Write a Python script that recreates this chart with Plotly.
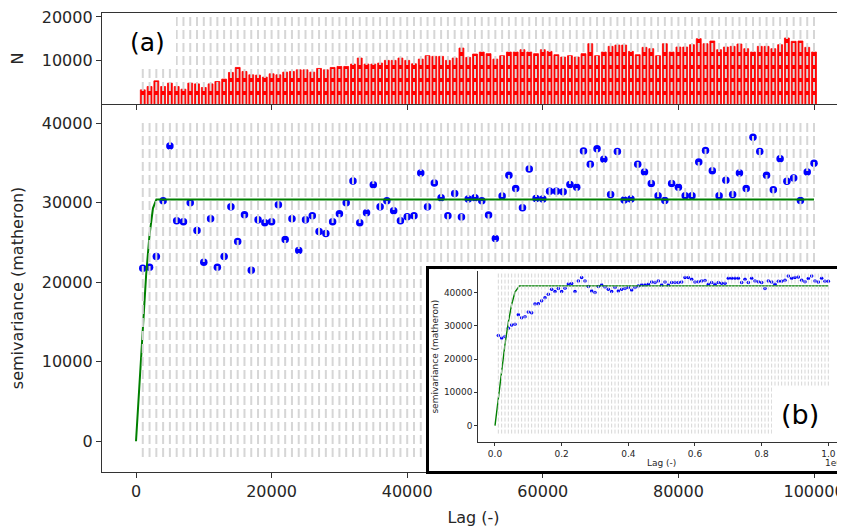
import plotly.graph_objs as go

# Lag bins (main plot, every 1000 up to 100000)
lags = [1000 * (i + 1) for i in range(100)]

# Pair counts per lag bin (panel a)
n_pairs = [3230, 4000, 5300, 4000, 4770, 4000, 3380, 4770, 4600, 3770,
           4600, 5150, 5700, 7230, 8380, 7460, 6690, 6610, 6150, 6920,
           6690, 7300, 7460, 7840, 7840, 7300, 8150, 7840, 8380, 8610,
           8610, 9150, 10540, 9150, 9150, 9380, 10000, 10000, 10540, 10000,
           9230, 10300, 11070, 10920, 10920, 10000, 10540, 12840, 10690, 11460,
           11920, 11540, 10300, 11070, 11920, 11920, 12460, 11920, 11540, 12460,
           12070, 11300, 10770, 11070, 10770, 11540, 13840, 11070, 11920, 13230,
           13530, 13530, 12070, 11300, 13000, 12690, 11070, 13840, 11920, 13070,
           13070, 13610, 15000, 13840, 14460, 12460, 13070, 13230, 13770, 12690,
           11920, 13230, 13230, 12690, 13610, 15150, 14380, 14460, 13000, 11920]

# Experimental semivariance (matheron)
semivariance = [21750, 21875, 23250, 30250, 37125, 27750, 27625, 30000, 26500, 22500,
                28000, 21875, 23250, 29500, 25125, 28500, 21500, 27875, 27500, 27625,
                29750, 25375, 28000, 24000, 27875, 28375, 26375, 26125, 27625, 28625,
                30000, 32750, 27500, 28750, 32250, 29500, 30250, 29000, 27750, 28250,
                28375, 33750, 29500, 32500, 30625, 28375, 31160, 28200, 30460, 30625,
                30250, 28460, 25500, 30840, 33460, 31790, 29375, 34250, 30540, 30460,
                31460, 31460, 31375, 32290, 31960, 36500, 34840, 36790, 35460, 31040,
                36460, 30340, 30460, 34840, 33875, 32410, 30875, 30290, 32410, 31960,
                30875, 30875, 35125, 36590, 34040, 30875, 32840, 31040, 33750, 31790,
                38250, 36460, 33460, 31625, 35540, 32710, 33125, 30290, 33875, 34960]

# Fitted model
model_lag = [0, 500, 1000, 1500, 2000, 2500, 3000, 100000]
model_val = [0, 7500, 15000, 21000, 26000, 29300, 30400, 30400]

# Inset (b): lags in units of 1e6
inset_lags = [0.01 * (i + 1) for i in range(100)]
inset_semivar = [27050, 26360, 26750, 29250, 30240, 30450, 33320, 32420, 32720, 34120,
                 33910, 36510, 36600, 37490, 38390, 39490, 40990, 40300, 41190, 40300,
                 41280, 42570, 42690, 40300, 43460, 44480, 43460, 41790, 40480, 40000,
                 41790, 42270, 41670, 40990, 40300, 41490, 40480, 40990, 41190, 41490,
                 40780, 41490, 41970, 42270, 42270, 42480, 43160, 43000, 43460, 42270,
                 43160, 42270, 42990, 42990, 42990, 43160, 44480, 44480, 43970, 43160,
                 43260, 43460, 43580, 42480, 42990, 42480, 42990, 42800, 42800, 44270,
                 44270, 44270, 44270, 42990, 43970, 42990, 44270, 43460, 43260, 42990,
                 41190, 43460, 43160, 42480, 43360, 43360, 43660, 44960, 44270, 44480,
                 44670, 43660, 43260, 44170, 44960, 43460, 43160, 44270, 43360, 43360]
inset_model_lag = [0, 0.01, 0.02, 0.03, 0.04, 0.05, 0.06, 0.07, 0.073, 1.0]
inset_model_val = [0, 8580, 16830, 24440, 31070, 36400, 40120, 41900, 42000, 42000]


def bin_lines(xs, y0, y1):
    # vertical segments at every lag bin, separated by None
    lx, ly = [], []
    for x in xs:
        lx += [x, x, None]
        ly += [y0, y1, None]
    return lx, ly


FONT = 'DejaVu Sans'
TXT = '#262626'
GRAY = 'rgb(214,214,214)'

data = []

# panel (a): histogram of pair counts
data.append(go.Bar(x=lags, y=n_pairs, width=720, xaxis='x', yaxis='y',
                   marker=dict(color='red', line=dict(color='red', width=0.8))))
gx, gy = bin_lines(lags, 0, 20150)
data.append(go.Scatter(x=gx, y=gy, mode='lines', xaxis='x', yaxis='y',
                       line=dict(color=GRAY, width=2, dash='9px,4px')))

# main variogram
data.append(go.Scatter(x=lags, y=semivariance, mode='markers', xaxis='x2', yaxis='y2',
                       marker=dict(color='blue', size=7.5)))
data.append(go.Scatter(x=model_lag, y=model_val, mode='lines', xaxis='x2', yaxis='y2',
                       line=dict(color='green', width=2)))
gx, gy = bin_lines(lags, -2000, 40400)
data.append(go.Scatter(x=gx, y=gy, mode='lines', xaxis='x2', yaxis='y2',
                       line=dict(color=GRAY, width=2, dash='9px,4px')))

# inset frame (empty subplot, just white background and black border)
data.append(go.Scatter(x=[None], y=[None], xaxis='x3', yaxis='y3', mode='markers'))

# inset (b)
data.append(go.Scatter(x=inset_lags, y=inset_semivar, mode='markers', xaxis='x4', yaxis='y4',
                       marker=dict(color='blue', size=3.5)))
data.append(go.Scatter(x=inset_model_lag, y=inset_model_val, mode='lines', xaxis='x4', yaxis='y4',
                       line=dict(color='green', width=1.4)))
gx, gy = bin_lines(inset_lags, -2400, 45850)
data.append(go.Scatter(x=gx, y=gy, mode='lines', xaxis='x4', yaxis='y4',
                       line=dict(color=GRAY, width=1, dash='4px,2px')))

axis_style = dict(showgrid=False, zeroline=False, showline=True, linecolor='#333',
                  linewidth=1.3, ticks='outside', ticklen=5, tickwidth=1.3, tickcolor='#333',
                  ticklabeloverflow='allow',
                  tickfont=dict(family=FONT, size=16, color=TXT))
small_axis = dict(showgrid=False, zeroline=False, showline=True, linecolor='#333',
                  linewidth=1, ticks='outside', ticklen=3, tickwidth=1, tickcolor='#333',
                  tickfont=dict(family=FONT, size=9, color=TXT))
frame_axis = dict(showgrid=False, zeroline=False, showline=True, linecolor='black',
                  linewidth=3, ticks='', showticklabels=False, range=[0, 1], fixedrange=True)

xrange_main = [-5015, 104570]
xticks = [0, 20000, 40000, 60000, 80000, 100000]

# the page body has an 8px margin, so the figure is drawn 8px smaller
layout = go.Layout(
    width=837, height=520,
    margin=dict(l=94, r=0, t=2, b=56),
    paper_bgcolor='white', plot_bgcolor='white',
    showlegend=False,
    font=dict(family=FONT, color=TXT),
    xaxis=dict(axis_style, domain=[0, 1], anchor='y', range=xrange_main, mirror=True,
               tickvals=xticks, showticklabels=False),
    yaxis=dict(axis_style, domain=[0.802, 1], anchor='x', range=[0, 20900],
               tickvals=[10000, 20000], tickformat='d',
               title=dict(text='N', standoff=14, font=dict(family=FONT, size=16, color=TXT))),
    xaxis2=dict(axis_style, domain=[0, 1], anchor='y2', range=xrange_main,
                tickvals=xticks, tickformat='d',
                title=dict(text='Lag (-)', standoff=11, font=dict(family=FONT, size=16, color=TXT))),
    yaxis2=dict(axis_style, domain=[0, 0.802], anchor='x2', range=[-3875, 42440],
                tickvals=[0, 10000, 20000, 30000, 40000], tickformat='d',
                title=dict(text='semivariance (matheron)', standoff=14,
                           font=dict(family=FONT, size=16, color=TXT))),
    xaxis3=dict(frame_axis, domain=[0.4401, 1], anchor='y3', mirror=True),
    yaxis3=dict(frame_axis, domain=[0.003, 0.4416], anchor='x3'),
    xaxis4=dict(small_axis, domain=[0.5065, 1], anchor='y4', range=[-0.05, 1.05],
                tickvals=[0, 0.2, 0.4, 0.6, 0.8, 1.0], tickformat='.1f',
                title=dict(text='Lag (-)', standoff=2, font=dict(family=FONT, size=9, color=TXT))),
    yaxis4=dict(small_axis, domain=[0.0656, 0.4372], anchor='x4', range=[-4900, 46360],
                tickvals=[0, 10000, 20000, 30000, 40000], tickformat='d',
                title=dict(text='semivariance (matheron)', standoff=3,
                           font=dict(family=FONT, size=9, color=TXT))),
    shapes=[
        # white label boxes hiding the bin lines behind the labels
        dict(type='rect', xref='paper', yref='paper', x0=0.0015, x1=0.0996, y0=0.8853, y1=0.9975,
             fillcolor='white', line=dict(width=0), layer='above'),
        dict(type='rect', xref='paper', yref='paper', x0=0.9017, x1=1.0, y0=0.0714, y1=0.185,
             fillcolor='white', line=dict(width=0), layer='above'),
    ],
    annotations=[
        dict(text='(a)', xref='paper', yref='paper', x=0.0619, y=0.935, showarrow=False,
             xanchor='center', yanchor='middle',
             font=dict(family=FONT, size=25, color='black')),
        dict(text='(b)', xref='paper', yref='paper', x=0.9394, y=0.1255, showarrow=False,
             xanchor='center', yanchor='middle',
             font=dict(family=FONT, size=27, color='black')),
        dict(text='1e6', xref='paper', yref='paper', x=0.999, y=0.0205, showarrow=False,
             xanchor='right', yanchor='middle',
             font=dict(family=FONT, size=9, color=TXT)),
    ],
)

fig = go.Figure(data=data, layout=layout)
fig.write_html('out.html')
